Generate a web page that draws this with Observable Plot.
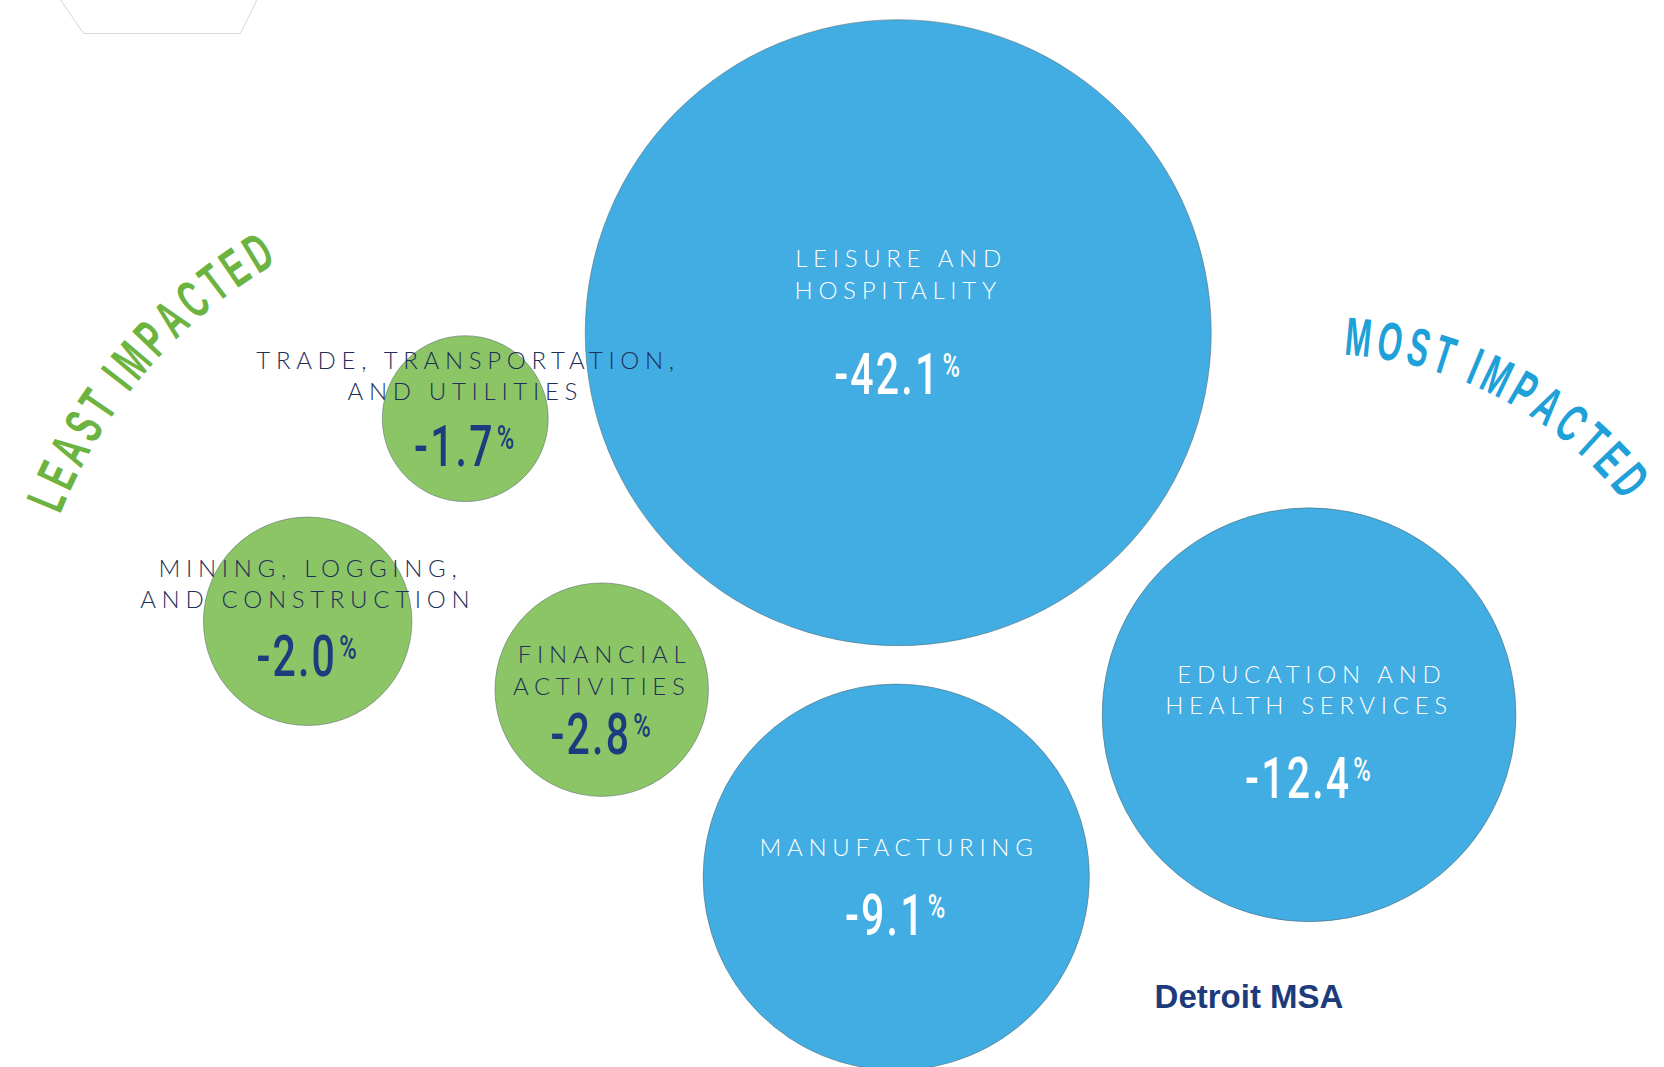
<!DOCTYPE html>
<html>
<head>
<meta charset="utf-8">
<script src="https://cdn.jsdelivr.net/npm/d3@7"></script>
<script src="https://cdn.jsdelivr.net/npm/@observablehq/plot@0.6"></script>
<style>
  html, body { margin: 0; padding: 0; background: #fff; }
  #chart svg { display: block; }
</style>
</head>
<body>
<div id="chart"></div>
<script>
// ---- data ----
const sectors = ["Leisure and Hospitality", "Trade, Transportation, and Utilities", "Mining, Logging, and Construction", "Financial Activities", "Manufacturing", "Education and Health Services"];
const labelLines = ["LEISURE AND\nHOSPITALITY", "TRADE, TRANSPORTATION,\nAND UTILITIES", "MINING, LOGGING,\nAND CONSTRUCTION", "FINANCIAL\nACTIVITIES", "MANUFACTURING", "EDUCATION AND\nHEALTH SERVICES"];
const change = [-42.1, -1.7, -2.0, -2.8, -9.1, -12.4];
const impactGroup = ["most", "least", "least", "least", "most", "most"];
const bubbleSize = [1.0, 0.265, 0.333, 0.341, 0.617, 0.661];
// layout positions (percent of chart width / height)
const bubbleX = [53.95, 27.93, 18.46, 36.13, 53.83, 78.64];
const bubbleY = [31.13, 39.19, 58.18, 64.59, 82.16, 66.94];
const labelY = [25.54, 35.06, 54.51, 62.66, 79.27, 64.50];
const valueY = [35.15, 41.87, 61.56, 68.93, 85.83, 73.0];

const arcLabels = ["LEAST IMPACTED", "MOST IMPACTED"];
const arcGroup = ["least", "most"];
const arcCenterX = [31.85, 79.33];
const arcCenterY = [65.6, 69.35];
const arcRadius = [30.35, 23.2];
const arcStart = [-158.5, -86.5];
const arcEnd = [-120, -38.2];

const captionText = ["Detroit MSA"];
const captionX = [75.03];
const captionY = [93.45];

const hexX = [3.2, 4.99, 14.42, 15.7];
const hexY = [-1, 3.09, 3.09, -1];

// ---- chart ----
const W = 1664, H = 1067;
const fillFor = {most: "#42ade2", least: "#8cc566"};
const labelColor = {most: "#ffffff", least: "#1f2f5a"};
const valueColor = {most: "#ffffff", least: "#1b3d7e"};
const arcColor = {least: "#6cb33f", most: "#1ea0d8"};

const rows = sectors.map((s, i) => ({
  sector: s, label: labelLines[i], change: change[i], group: impactGroup[i],
  size: bubbleSize[i], x: bubbleX[i], y: bubbleY[i], ly: labelY[i], vy: valueY[i]
}));
const hex = hexX.map((x, i) => ({x, y: hexY[i]}));
const caption = captionText.map((t, i) => ({t, x: captionX[i], y: captionY[i]}));

const plot = Plot.plot({
  width: W, height: H, margin: 0,
  x: {domain: [0, 100], range: [0, W], axis: null},
  y: {domain: [0, 100], range: [0, H], axis: null},
  r: {type: "linear", domain: [0, 1], range: [0, 313]},
  color: {type: "identity"},
  style: {background: "#fff", overflow: "visible"},
  marks: [
    Plot.line(hex, {x: "x", y: "y", stroke: "#d6d6d6", strokeWidth: 1}),
    Plot.dot(rows, {x: "x", y: "y", r: "size", fill: d => fillFor[d.group], stroke: "#4d5f66", strokeOpacity: 0.5, strokeWidth: 1}),
    Plot.text(rows, {x: "x", y: "ly", text: "label", fill: d => labelColor[d.group], fontSize: 24, fontFamily: "Lato, 'Liberation Sans', sans-serif", fontWeight: 300, lineHeight: 1.3, ariaDescription: "category-label"}),
    Plot.text(rows, {x: "x", y: "vy", text: d => d.change.toFixed(1), fill: d => valueColor[d.group], fontSize: 57, fontFamily: "Roboto, 'Liberation Sans', sans-serif", fontWeight: 500, ariaDescription: "value-label"}),
    Plot.text(caption, {x: "x", y: "y", text: "t", fill: "#1d3b7b", fontSize: 33, fontWeight: "bold", fontFamily: "'Liberation Sans', Arial, sans-serif", ariaDescription: "caption"})
  ]
});

document.getElementById("chart").appendChild(plot);
const svg = d3.select(plot);

// spaced category labels
svg.selectAll('g[aria-description="category-label"] text')
  .style("letter-spacing", "5.7px")
  .attr("dx", 2.8);

// superscript % and horizontal condensing of value labels
svg.selectAll('g[aria-description="value-label"] text').each(function() {
  const t = d3.select(this);
  t.style("letter-spacing", "3px");
  t.attr("transform", (t.attr("transform") || "") + " scale(0.72,1)");
  t.append("tspan").attr("font-size", 33).attr("dy", -17).attr("dx", 3).text("%");
});

// curved "least / most impacted" labels, one glyph at a time along an arc
const xs = plot.scale("x"), ys = plot.scale("y");
const arcFont = {family: "'Liberation Sans', Arial, sans-serif", size: 54, weight: "bold", squeeze: 0.58};
const measurer = svg.append("text")
  .attr("font-family", arcFont.family).attr("font-size", arcFont.size).attr("font-weight", arcFont.weight)
  .attr("x", -1000).attr("y", -1000);
function advance(ch) {
  if (ch === " ") return arcFont.size * 0.22;
  measurer.text(ch);
  return measurer.node().getComputedTextLength();
}
arcLabels.forEach((label, i) => {
  const cx = xs.apply(arcCenterX[i]), cy = ys.apply(arcCenterY[i]);
  const R = xs.apply(arcRadius[i]) - xs.apply(0);
  const a0 = arcStart[i] * Math.PI / 180, a1 = arcEnd[i] * Math.PI / 180;
  const arcLen = R * (a1 - a0);
  const chars = Array.from(label);
  const widths = chars.map(c => advance(c) * arcFont.squeeze);
  const total = d3.sum(widths);
  const gap = (arcLen - total) / (chars.length - 1);
  const g = svg.append("g").attr("fill", arcColor[arcGroup[i]])
    .attr("font-family", arcFont.family).attr("font-size", arcFont.size).attr("font-weight", arcFont.weight)
    .attr("text-anchor", "middle");
  let s = 0;
  chars.forEach((c, k) => {
    const mid = s + widths[k] / 2;
    s += widths[k] + gap;
    if (c === " ") return;
    const th = a0 + mid / R;
    const px = cx + R * Math.cos(th), py = cy + R * Math.sin(th);
    const rot = th * 180 / Math.PI + 90;
    g.append("text")
      .attr("transform", `translate(${px},${py}) rotate(${rot}) scale(${arcFont.squeeze},1)`)
      .text(c);
  });
});
measurer.remove();
</script>
</body>
</html>
